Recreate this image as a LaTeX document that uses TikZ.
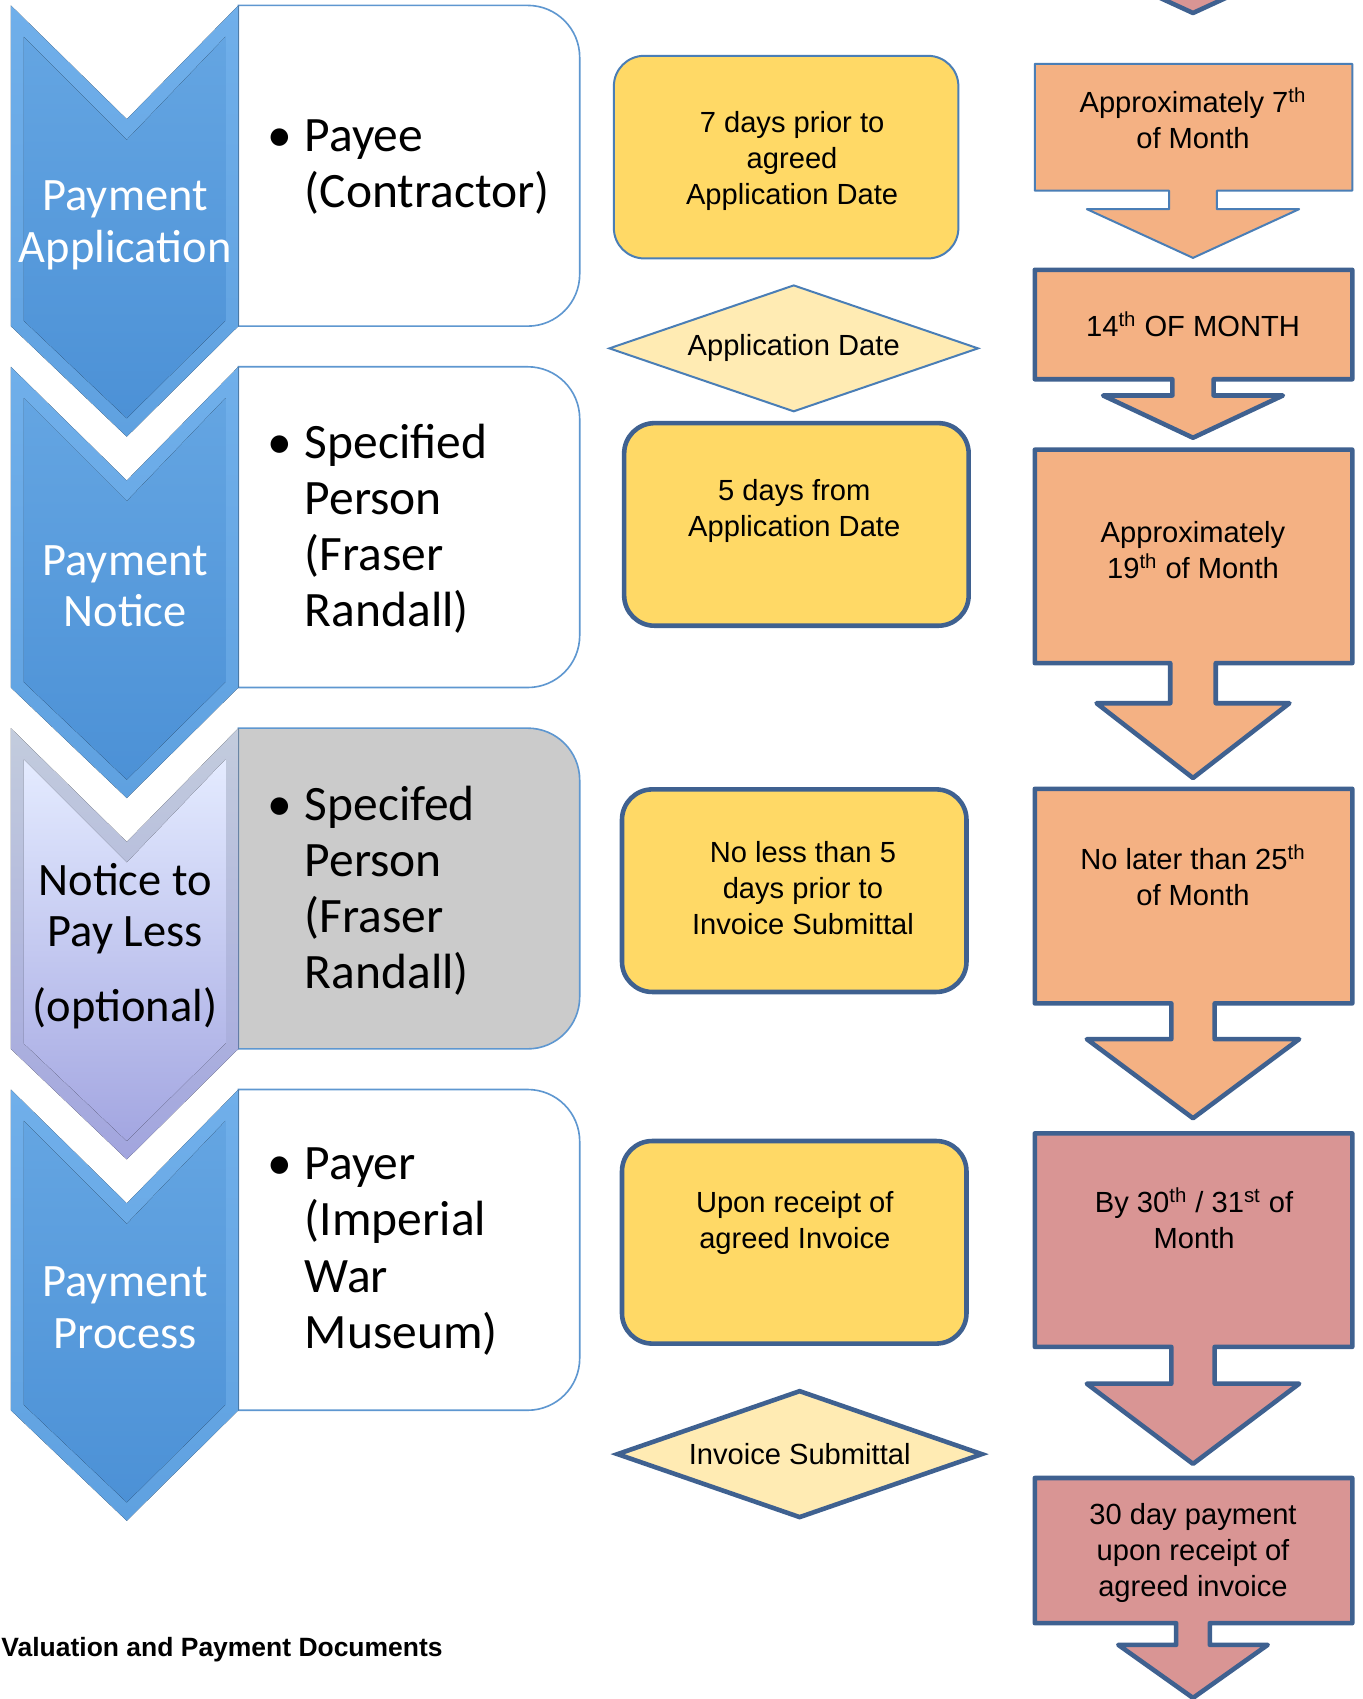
\documentclass[tikz,border=0pt]{standalone}
\usepackage{fontspec}
\setmainfont{Liberation Sans}
\newfontfamily\calibrifont{Carlito}
\usepackage{xcolor}
\usetikzlibrary{shapes.geometric,positioning}

\definecolor{rimblue}{HTML}{70AFEA}
\definecolor{rimbluedk}{HTML}{5FA1E0}
\definecolor{faceblue}{HTML}{64A5E2}
\definecolor{facebluedk}{HTML}{4C91D6}
\definecolor{rimlav}{HTML}{C3CCDD}
\definecolor{rimlavdk}{HTML}{A2A5DE}
\definecolor{facelav}{HTML}{E4EBFF}
\definecolor{facelavdk}{HTML}{A3A6E1}
\definecolor{roleedge}{HTML}{5E97D0}
\definecolor{rolegray}{HTML}{CBCBCB}
\definecolor{dateyellow}{HTML}{FFD966}
\definecolor{datecream}{HTML}{FFEBB3}
\definecolor{edgedark}{HTML}{3F6190}
\definecolor{edgethin}{HTML}{4A7EB6}
\definecolor{callorange}{HTML}{F4B183}
\definecolor{callpink}{HTML}{D99594}

\begin{document}
\begin{tikzpicture}[x=0.02cm, y=-0.02cm,
  chevtext/.style={align=center, inner sep=0pt, text=white,
    font=\calibrifont\fontsize{24.4}{27.2}\selectfont},
  roletext/.style={anchor=west, align=left, inner sep=0pt,
    font=\calibrifont\fontsize{26}{29.5}\selectfont},
  datebox/.style={rectangle, rounded corners=0.56cm, fill=dateyellow,
    minimum width=6.36cm, minimum height=3.74cm, inner sep=0pt},
  datediamond/.style={diamond, aspect=2.9, fill=datecream, inner sep=0pt,
    font=\fontsize{15.3}{18.9}\selectfont},
  thinedge/.style={draw=edgethin, line width=1.05pt},
  thickedge/.style={draw=edgedark, line width=2.4pt},
  datetext/.style={align=center, inner sep=0pt, font=\fontsize{15.3}{18.9}\selectfont},
  caption/.style={anchor=west, inner sep=0pt, font=\bfseries\fontsize{13.9}{16}\selectfont},
]
  \fill[white] (0,0) rectangle (1257,1568);
  \useasboundingbox (0,0) rectangle (1257,1568);

  % --- role boxes and chevrons, one row per step ----------------------
  \foreach \i/\boxcol/\rt/\rb/\ft/\fb in {0/white/rimblue/rimbluedk/faceblue/facebluedk,
      1/white/rimblue/rimbluedk/faceblue/facebluedk,
      2/rolegray/rimlav/rimlavdk/facelav/facelavdk,
      3/white/rimblue/rimbluedk/faceblue/facebluedk} {
    \pgfmathsetmacro{\yt}{5+333.5*\i}
    \path[draw=roleedge, line width=0.85pt, fill=\boxcol] (220,\yt) -- (487,\yt)
      arc[start angle=-90, end angle=0, radius=48] -- (535,\yt+248)
      arc[start angle=0, end angle=90, radius=48] -- (220,\yt+296) -- cycle;
    \fill[top color=\rt, bottom color=\rb] (10,\yt) -- (117,\yt+105) -- (220,\yt)
      -- (220,\yt+296) -- (117,\yt+398) -- (10,\yt+296) -- cycle;
    \fill[top color=\ft, bottom color=\fb] (22,\yt+29) -- (117,\yt+124) -- (208,\yt+29)
      -- (208,\yt+291) -- (117,\yt+381) -- (22,\yt+291) -- cycle;
  }

  \node[chevtext] (ch1) at (115.5,208) {Payment\\Application};
  \node[chevtext] (ch2) at (115.5,541) {Payment\\Notice};
  \node[chevtext, text=black] (ch3) at (115.5,873) {Notice to\\Pay Less\\[12pt](optional)};
  \node[chevtext] (ch4) at (115.5,1207) {Payment\\Process};

  \node[roletext] (r1) at (246.5,154) {\makebox[19.6pt][l]{\textbullet}Payee\\
    \makebox[19.6pt]{}(Contractor)};
  \node[roletext] (r2) at (246.5,488) {\makebox[19.6pt][l]{\textbullet}Specified\\
    \makebox[19.6pt]{}Person\\\makebox[19.6pt]{}(Fraser\\\makebox[19.6pt]{}Randall)};
  \node[roletext] (r3) at (246.5,822) {\makebox[19.6pt][l]{\textbullet}Specifed\\
    \makebox[19.6pt]{}Person\\\makebox[19.6pt]{}(Fraser\\\makebox[19.6pt]{}Randall)};
  \node[roletext] (r4) at (246.5,1155) {\makebox[19.6pt][l]{\textbullet}Payer\\
    \makebox[19.6pt]{}(Imperial\\\makebox[19.6pt]{}War\\\makebox[19.6pt]{}Museum)};

  % --- dates column -----------------------------------------------------
  \node[datebox, thinedge] (m1) at (725.5,145) {};
  \node[datetext] (m1t) at (731,148.5) {7 days prior to\\agreed\\Application Date};
  \node[datediamond, thinedge, minimum width=6.82cm, minimum height=2.34cm]
    (d1) at (732.5,321.5) {Application Date};
  \node[datebox, thickedge] (m2) at (735,484) {};
  \node[datetext] (m2t) at (733,472) {5 days from\\Application Date};
  \node[datebox, thickedge] (m3) at (733,822) {};
  \node[datetext] (m3t) at (741,820) {No less than 5\\days prior to\\Invoice Submittal};
  \node[datebox, thickedge] (m4) at (733,1146.5) {};
  \node[datetext] (m4t) at (733.5,1128.5) {Upon receipt of\\agreed Invoice};
  \node[datediamond, thickedge, minimum width=6.76cm, minimum height=2.36cm]
    (d2) at (738,1342) {Invoice Submittal};

  % --- month callouts (right column) ----------------------------------
  \path[thickedge, fill=callpink, line join=round] (1079,-90) -- (1079,-33) -- (1003,-33)
    -- (1101,12) -- (1199,-33) -- (1123,-33) -- (1123,-90);
  \foreach \t/\b/\h/\tip/\hw/\sw/\col/\ec/\lw in {
      59/176/193/238/98/22/callorange/edgethin/1.05pt,
      249/350/365/404/83/19/callorange/edgedark/2.4pt,
      415/612/649/718/89/21/callorange/edgedark/2.4pt,
      728/926/959/1032/98/20/callorange/edgedark/2.4pt,
      1046/1243/1277/1351/98/20/callpink/edgedark/2.4pt,
      1364/1498/1518/1567/69/15.5/callpink/edgedark/2.4pt}
    \path[draw=\ec, line width=\lw, fill=\col, line join=round] (955,\t) -- (1248,\t)
      -- (1248,\b) -- (1101+\sw,\b) -- (1101+\sw,\h) -- (1101+\hw,\h) -- (1101,\tip)
      -- (1101-\hw,\h) -- (1101-\sw,\h) -- (1101-\sw,\b) -- (955,\b) -- cycle;

  \node[datetext] (c1t) at (1101,109.5) {Approximately 7\textsuperscript{th}\\of Month};
  \node[datetext] (c2t) at (1101,299) {14\textsuperscript{th} OF MONTH};
  \node[datetext] (c3t) at (1101,508) {Approximately\\19\textsuperscript{th} of Month};
  \node[datetext] (c4t) at (1101,808) {No later than 25\textsuperscript{th}\\of Month};
  \node[datetext] (c5t) at (1102,1124.5) {By 30\textsuperscript{th} / 31\textsuperscript{st} of\\Month};
  \node[datetext] (c6t) at (1101,1433) {30 day payment\\upon receipt of\\agreed invoice};

  % --- caption ----------------------------------------------------------
  \node[caption] (cap) at (1,1522) {Valuation and Payment Documents};
\end{tikzpicture}
\end{document}
